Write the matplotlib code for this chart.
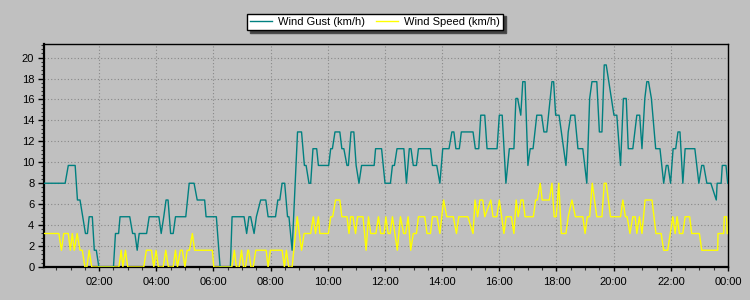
import matplotlib
matplotlib.use("Agg")
import matplotlib.pyplot as plt
from matplotlib.ticker import MultipleLocator, FixedLocator

plt.rcParams['font.family'] = ['Liberation Sans', 'DejaVu Sans']

# ---- data (hours after midnight, km/h) ----
gust_hours = [0.07, 0.81, 0.92, 1.16, 1.24, 1.33, 1.52, 1.59, 1.65, 1.76, 1.83, 1.90, 1.99,
              2.50, 2.57, 2.68, 2.73, 3.07, 3.17, 3.25, 3.33, 3.40, 3.66, 3.75, 4.09, 4.17,
              4.26, 4.34, 4.41, 4.50, 4.59, 4.67, 5.03, 5.15, 5.32, 5.43, 5.69, 5.74, 6.10,
              6.23, 6.59, 6.65, 7.07, 7.16, 7.24, 7.30, 7.42, 7.50, 7.65, 7.83, 7.91, 8.17,
              8.25, 8.32, 8.40, 8.49, 8.59, 8.64, 8.75, 8.94, 9.08, 9.18, 9.24, 9.34, 9.40,
              9.48, 9.61, 9.67, 10.03, 10.10, 10.16, 10.25, 10.42, 10.49, 10.56, 10.67, 10.72,
              10.81, 10.91, 10.99, 11.09, 11.18, 11.62, 11.67, 11.88, 12.00, 12.19, 12.26,
              12.33, 12.42, 12.66, 12.75, 12.85, 12.91, 12.99, 13.10, 13.17, 13.59, 13.66,
              13.81, 13.92, 14.02, 14.24, 14.34, 14.41, 14.48, 14.60, 14.67, 15.08, 15.16,
              15.28, 15.35, 15.49, 15.57, 15.92, 16.00, 16.10, 16.23, 16.35, 16.51, 16.58,
              16.64, 16.75, 16.82, 16.90, 17.00, 17.08, 17.18, 17.31, 17.48, 17.56, 17.66,
              17.84, 17.90, 17.97, 18.09, 18.33, 18.41, 18.50, 18.64, 18.75, 18.92, 19.06,
              19.16, 19.24, 19.41, 19.50, 19.59, 19.67, 19.74, 20.01, 20.11, 20.24, 20.34,
              20.44, 20.51, 20.67, 20.81, 20.91, 20.99, 21.09, 21.16, 21.22, 21.32, 21.47,
              21.62, 21.75, 21.84, 21.90, 21.99, 22.08, 22.17, 22.25, 22.32, 22.42, 22.50,
              22.84, 22.98, 23.08, 23.15, 23.26, 23.40, 23.59, 23.62, 23.76, 23.80, 23.93,
              23.99]
gust_kmh = [8.0, 8.0, 9.7, 9.7, 6.4, 6.4, 3.2, 3.2, 4.8, 4.8, 1.6, 1.6, 0.0,
            0.0, 3.2, 3.2, 4.8, 4.8, 3.2, 3.2, 1.6, 3.2, 3.2, 4.8, 4.8, 3.2,
            4.8, 6.4, 6.4, 3.2, 3.2, 4.8, 4.8, 8.0, 8.0, 6.4, 6.4, 4.8, 4.8,
            0.0, 0.0, 4.8, 4.8, 3.2, 4.8, 4.8, 3.2, 4.8, 6.4, 6.4, 4.8, 4.8,
            6.4, 6.4, 8.0, 8.0, 4.8, 4.8, 1.6, 12.9, 12.9, 9.7, 9.7, 8.0, 8.0,
            11.3, 11.3, 9.7, 9.7, 11.3, 11.3, 12.9, 12.9, 11.3, 11.3, 9.7, 9.7,
            12.9, 12.9, 9.7, 8.0, 9.7, 9.7, 11.3, 11.3, 8.0, 8.0, 9.7,
            9.7, 11.3, 11.3, 8.0, 11.3, 11.3, 9.7, 9.7, 11.3, 11.3, 9.7,
            9.7, 8.0, 11.3, 11.3, 12.9, 12.9, 11.3, 11.3, 12.9, 12.9, 11.3,
            11.3, 14.5, 14.5, 11.3, 11.3, 14.5, 14.5, 8.0, 11.3, 11.3, 16.1,
            16.1, 14.5, 17.7, 17.7, 9.7, 11.3, 11.3, 14.5, 14.5, 12.9, 12.9,
            17.7, 17.7, 14.5, 14.5, 9.7, 12.9, 14.5, 14.5, 11.3, 11.3, 8.0,
            16.1, 17.7, 17.7, 12.9, 12.9, 19.3, 19.3, 14.5, 14.5, 9.7, 16.1,
            16.1, 11.3, 11.3, 14.5, 14.5, 11.3, 16.1, 17.7, 17.7, 16.1, 11.3,
            11.3, 8.0, 9.7, 9.7, 8.0, 11.3, 11.3, 12.9, 12.9, 8.0, 11.3,
            11.3, 8.0, 9.7, 9.7, 8.0, 8.0, 6.4, 8.0, 8.0, 9.7, 9.7,
            8.0]

speed_hours = [0.07, 0.59, 0.68, 0.76, 0.92, 0.99, 1.06, 1.13, 1.23, 1.33, 1.41, 1.50, 1.57,
               1.65, 1.74, 2.69, 2.77, 2.83, 2.92, 3.00, 3.56, 3.65, 3.83, 3.91, 3.99, 4.07,
               4.24, 4.33, 4.42, 4.59, 4.67, 4.74, 4.84, 4.91, 5.00, 5.08, 5.16, 5.26, 5.34,
               5.96, 6.01, 6.64, 6.73, 6.80, 6.90, 6.98, 7.05, 7.12, 7.20, 7.23, 7.31, 7.39,
               7.48, 7.84, 7.91, 7.99, 8.40, 8.48, 8.55, 8.63, 8.75, 8.81, 8.93, 9.08, 9.17,
               9.40, 9.49, 9.57, 9.67, 9.72, 10.02, 10.10, 10.17, 10.27, 10.42, 10.49, 10.67,
               10.74, 10.80, 10.88, 10.97, 11.04, 11.23, 11.34, 11.42, 11.50, 11.68, 11.77,
               11.85, 11.97, 12.03, 12.11, 12.18, 12.26, 12.43, 12.54, 12.65, 12.72, 12.81,
               12.90, 12.99, 13.10, 13.17, 13.39, 13.47, 13.59, 13.66, 13.82, 13.92, 14.05,
               14.16, 14.39, 14.50, 14.58, 14.90, 15.08, 15.15, 15.24, 15.32, 15.42, 15.49,
               15.70, 15.78, 15.91, 16.00, 16.16, 16.24, 16.42, 16.51, 16.59, 16.66, 16.76,
               16.83, 16.90, 17.19, 17.27, 17.33, 17.43, 17.50, 17.75, 17.84, 17.92, 17.99,
               18.08, 18.17, 18.33, 18.41, 18.54, 18.66, 18.92, 19.00, 19.08, 19.16, 19.25,
               19.41, 19.59, 19.67, 19.74, 19.89, 20.24, 20.32, 20.41, 20.47, 20.57, 20.67,
               20.75, 20.81, 20.90, 20.99, 21.10, 21.34, 21.48, 21.66, 21.75, 21.89, 21.98,
               22.07, 22.15, 22.22, 22.30, 22.42, 22.50, 22.66, 22.73, 23.00, 23.08, 23.64,
               23.65, 23.85, 23.87, 23.95, 23.97]
speed_kmh = [3.2, 3.2, 1.6, 3.2, 3.2, 1.6, 3.2, 1.6, 3.2, 1.6, 1.6, 0.0, 0.0,
             1.6, 0.0, 0.0, 1.6, 0.0, 1.6, 0.0, 0.0, 1.6, 1.6, 0.0, 1.6, 0.0,
             0.0, 1.6, 0.0, 0.0, 1.6, 0.0, 1.6, 1.6, 0.0, 1.6, 1.6, 3.2, 1.6,
             1.6, 0.0, 0.0, 1.6, 0.0, 0.0, 1.6, 0.0, 0.0, 1.6, 1.6, 0.0, 0.0,
             1.6, 1.6, 0.0, 1.6, 1.6, 0.0, 1.6, 0.0, 0.0, 1.6, 4.8, 1.6, 3.2,
             3.2, 4.8, 3.2, 4.8, 3.2, 3.2, 4.8, 4.8, 6.4, 6.4, 4.8, 4.8,
             3.2, 4.8, 4.8, 3.2, 4.8, 4.8, 1.6, 4.8, 3.2, 3.2, 4.8,
             3.2, 3.2, 4.8, 3.2, 3.2, 4.8, 1.6, 4.8, 3.2, 3.2, 4.8,
             1.6, 3.2, 3.2, 4.8, 4.8, 3.2, 3.2, 4.8, 4.8, 3.2, 6.4,
             4.8, 4.8, 3.2, 4.8, 4.8, 3.2, 6.4, 4.8, 6.4, 6.4, 4.8,
             6.4, 4.8, 4.8, 6.4, 3.2, 4.8, 4.8, 3.2, 6.4, 4.8, 6.4,
             6.4, 4.8, 4.8, 6.4, 6.4, 8.0, 6.4, 6.4, 8.0, 4.8, 4.8,
             8.0, 3.2, 3.2, 4.8, 6.4, 4.8, 4.8, 3.2, 4.8, 4.8, 8.0,
             4.8, 4.8, 8.0, 8.0, 4.8, 4.8, 6.4, 4.8, 4.8, 3.2, 4.8,
             4.8, 3.2, 4.8, 3.2, 6.4, 6.4, 3.2, 3.2, 1.6, 1.6, 3.2,
             4.8, 3.2, 4.8, 3.2, 3.2, 4.8, 4.8, 3.2, 3.2, 1.6, 1.6,
             3.2, 3.2, 4.8, 4.8, 3.2]

x_tick_hours = [2, 4, 6, 8, 10, 12, 14, 16, 18, 20, 22, 24]
x_tick_labels = ["02:00", "04:00", "06:00", "08:00", "10:00", "12:00",
                 "14:00", "16:00", "18:00", "20:00", "22:00", "00:00"]
series_names = ["Wind Gust (km/h)", "Wind Speed (km/h)"]

# ---- styling ----
BG = "#c0c0c0"
GUST_COLOR = "#008080"
SPEED_COLOR = "#ffff00"

fig = plt.figure(figsize=(7.5, 3.0), dpi=100, facecolor=BG)
ax = fig.add_axes([44 / 750, 33 / 300, 684 / 750, 223 / 300])
ax.set_facecolor(BG)

ax.plot(gust_hours, gust_kmh, color=GUST_COLOR, lw=1.0, label=series_names[0], zorder=3)
ax.plot(speed_hours, speed_kmh, color=SPEED_COLOR, lw=1.0, label=series_names[1], zorder=3)

ax.set_xlim(0.07, 24.0)
ax.set_ylim(0, 21.3)

ax.xaxis.set_major_locator(FixedLocator(x_tick_hours))
ax.set_xticklabels(x_tick_labels)
ax.xaxis.set_minor_locator(MultipleLocator(0.5))
ax.yaxis.set_major_locator(MultipleLocator(2))
ax.yaxis.set_minor_locator(MultipleLocator(0.4))

ax.grid(True, which="major", color="#888888", linestyle=(0, (1, 2)), linewidth=0.8, zorder=1)
ax.set_axisbelow(True)

ax.tick_params(axis="both", which="major", direction="out", length=4, width=1,
               color="black", labelsize=8, labelcolor="black", pad=3)
ax.tick_params(axis="both", which="minor", direction="out", length=2.5, width=0.8, color="#333333")
ax.tick_params(axis="x", which="major", length=3, pad=4)

for side in ("left", "bottom"):
    ax.spines[side].set_linewidth(1.6)
    ax.spines[side].set_color("black")
for side in ("top", "right"):
    ax.spines[side].set_linewidth(1.0)
    ax.spines[side].set_color("black")

leg = fig.legend(loc="upper center", bbox_to_anchor=(0.5, 0.955), ncol=2,
                 frameon=True, fancybox=False, shadow={"facecolor": "#404040", "alpha": 1.0},
                 edgecolor="black", facecolor="white", framealpha=1.0,
                 fontsize=8, handlelength=2.0, handletextpad=0.5, columnspacing=1.0,
                 borderpad=0.3, borderaxespad=0.0)
leg.get_frame().set_linewidth(1.0)
for line in leg.get_lines():
    line.set_linewidth(1.0)

fig.savefig("out.png", dpi=100, facecolor=BG)
